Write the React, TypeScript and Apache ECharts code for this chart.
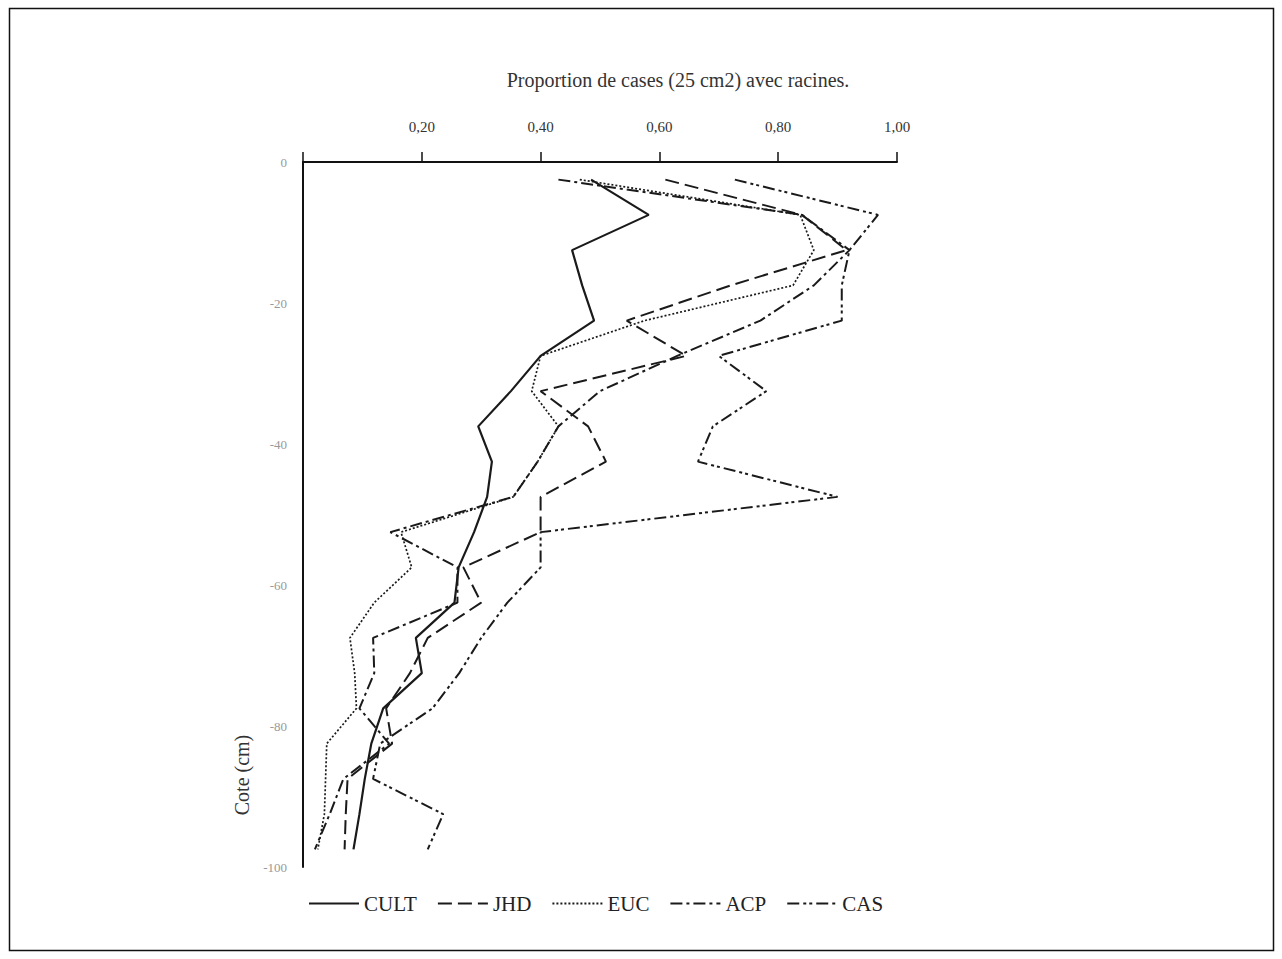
import React, { useEffect, useRef } from "react";
import * as echarts from "echarts";

const depths = [-2.5, -7.5, -12.5, -17.5, -22.5, -27.5, -32.5, -37.5, -42.5, -47.5, -52.5, -57.5, -62.5, -67.5, -72.5, -77.5, -82.5, -87.5, -92.5, -97.5];

const cult = [0.485, 0.582, 0.453, 0.47, 0.49, 0.4, 0.35, 0.295, 0.318, 0.31, 0.288, 0.262, 0.255, 0.19, 0.2, 0.135, 0.115, 0.104, 0.095, 0.085];
const jhd = [0.61, 0.84, 0.915, 0.72, 0.545, 0.645, 0.4, 0.48, 0.51, 0.4, 0.4, 0.27, 0.3, 0.21, 0.18, 0.14, 0.15, 0.075, 0.072, 0.07];
const euc = [0.466, 0.837, 0.86, 0.825, 0.575, 0.4, 0.385, 0.43, 0.395, 0.354, 0.165, 0.183, 0.12, 0.079, 0.087, 0.09, 0.04, 0.038, 0.036, 0.025];
const acp = [0.43, 0.84, 0.92, 0.86, 0.77, 0.63, 0.5, 0.43, 0.395, 0.354, 0.147, 0.26, 0.26, 0.118, 0.12, 0.095, 0.145, 0.068, 0.045, 0.02];
const cas = [0.727, 0.968, 0.92, 0.907, 0.907, 0.7, 0.78, 0.69, 0.665, 0.9, 0.4, 0.4, 0.344, 0.3, 0.263, 0.218, 0.13, 0.118, 0.236, 0.21];

const seriesNames = ["CULT", "JHD", "EUC", "ACP", "CAS"];
const seriesValues = [cult, jhd, euc, acp, cas];
const dashes: (string | number[])[] = ["solid", [14, 6], [2, 2], [12, 4, 3, 4], [12, 4, 3, 3, 3, 4]];
const widths = [2.2, 2, 1.7, 2, 2];

const xTicks = [0, 0.2, 0.4, 0.6, 0.8, 1.0];

const FONT = "Liberation Serif";

export default function App() {
  const ref = useRef<HTMLDivElement>(null);
  useEffect(() => {
    document.body.style.margin = "0";
    const chart = echarts.init(ref.current!, null, { renderer: "svg" });
    const series = seriesNames.map((name, k) => ({
      name,
      type: "line",
      data: depths.map((d, i) => [seriesValues[k][i], d]),
      symbol: "none",
      lineStyle: { color: "#1a1a1a", width: widths[k], type: dashes[k] },
      itemStyle: { color: "#1a1a1a" },
    }));
    chart.setOption({
      animation: false,
      backgroundColor: "#ffffff",
      grid: { left: 303, top: 162, width: 594, height: 705 },
      xAxis: {
        type: "value",
        position: "top",
        min: xTicks[0],
        max: xTicks[xTicks.length - 1],
        interval: 0.2,
        axisLine: { show: true, lineStyle: { color: "#111", width: 2 } },
        axisTick: { show: true, length: 10, lineStyle: { color: "#111", width: 1.5 } },
        splitLine: { show: false },
        axisLabel: {
          margin: 28,
          color: "#333",
          fontFamily: FONT,
          fontSize: 15,
          formatter: (v: number) => (v === 0 ? "" : v.toFixed(2).replace(".", ",")),
        },
      },
      yAxis: {
        type: "value",
        min: -100,
        max: 0,
        interval: 20,
        axisLine: { show: true, onZero: false, lineStyle: { color: "#111", width: 2 } },
        axisTick: { show: false },
        splitLine: { show: false },
        axisLabel: {
          margin: 16,
          color: "#999",
          fontFamily: FONT,
          fontSize: 13,
          formatter: (v: number) => String(v),
        },
      },
      legend: {
        data: seriesNames,
        top: 888,
        left: 303,
        itemWidth: 50,
        itemHeight: 14,
        itemGap: 20,
        itemStyle: { opacity: 0, borderWidth: 0 },
        textStyle: { fontFamily: FONT, fontSize: 21, color: "#222" },
      },
      graphic: [
        {
          type: "rect",
          shape: { x: 9.5, y: 8.5, width: 1264, height: 942 },
          style: { fill: "none", stroke: "#111", lineWidth: 1.5 },
        },
        {
          type: "text",
          x: 678,
          y: 80,
          style: {
            text: "Proportion de cases (25 cm2) avec racines.",
            fontFamily: FONT,
            fontSize: 20,
            fill: "#333",
            align: "center",
            verticalAlign: "middle",
          },
        },
        {
          type: "text",
          x: 242,
          y: 775,
          rotation: Math.PI / 2,
          style: {
            text: "Cote (cm)",
            fontFamily: FONT,
            fontSize: 20,
            fill: "#333",
            align: "center",
            verticalAlign: "middle",
          },
        },
      ],
      series,
    });
    return () => chart.dispose();
  }, []);
  return <div ref={ref} style={{ width: 1282, height: 959 }} />;
}
